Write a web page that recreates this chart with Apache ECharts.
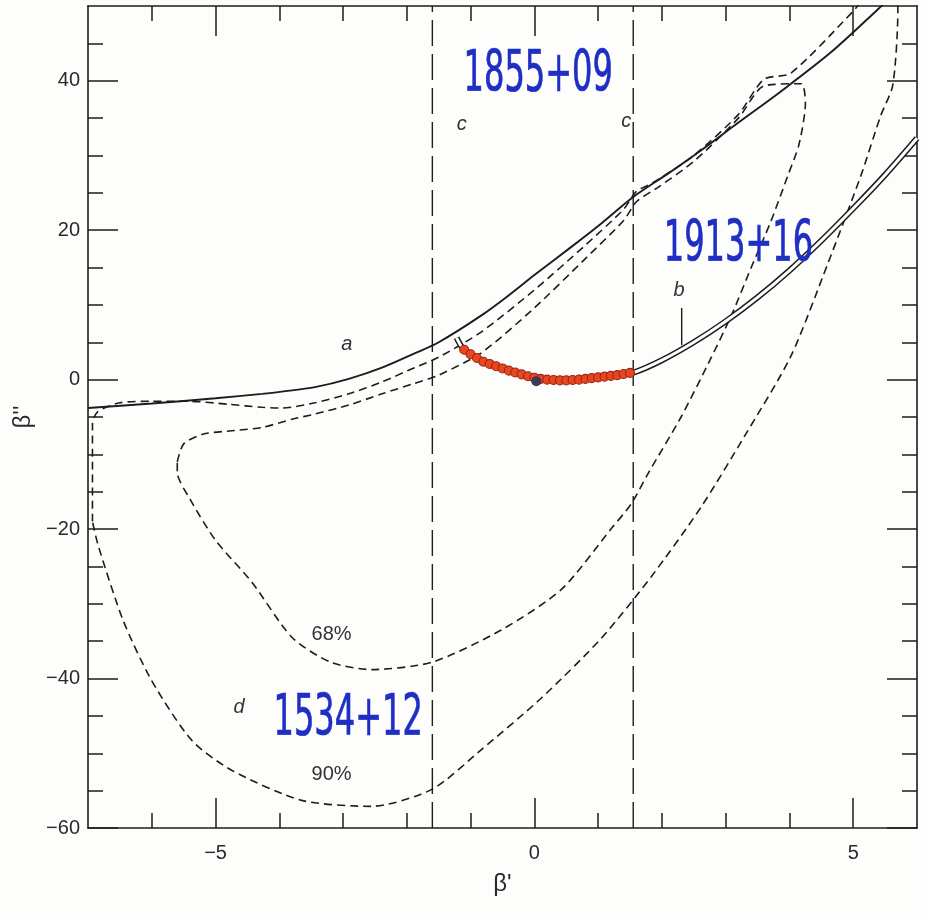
<!DOCTYPE html>
<html><head><meta charset="utf-8">
<script src="https://cdn.jsdelivr.net/npm/echarts@6/dist/echarts.min.js"></script>
<style>html,body{margin:0;padding:0;background:#fdfdfb;}#c{width:927px;height:920px;}</style>
</head><body><div id="c"></div>
<script>
// ---- tick values ----
const xMajorTicks = [-5, 0, 5];
const xMinorTicks = [-6, -4, -3, -2, -1, 1, 2, 3, 4];
const yMajorTicks = [-60, -40, -20, 0, 20, 40];
const yMinorTicks = [-55, -50, -45, -35, -30, -25, -15, -10, -5, 5, 10, 15, 25, 30, 35, 45];

// ---- curve a (1855+09 constraint, solid) ----
const curveA = [[-7.0,-3.8],[-6.0,-3.2],[-5.0,-2.5],[-4.27,-1.9],[-3.96,-1.6],[-3.44,-1.0],[-2.91,0.1],[-2.39,1.6],[-1.88,3.5],[-1.5,5.0],[-0.83,8.6],[-0.4,11.3],[0.0,14.0],[0.6,17.9],[1.05,20.9],[1.56,24.5],[2.1,27.6],[2.6,30.6],[3.2,34.4],[3.87,38.6],[4.65,43.8],[5.38,49.5],[5.6,51.3]];

// ---- 1534+12 confidence contours (dashed) ----
const contour90 = [[-6.93,-19.0],[-6.93,-12.0],[-6.93,-6.0],[-6.85,-4.3],[-6.5,-3.1],[-6.0,-2.9],[-5.4,-2.9],[-4.8,-3.3],[-4.27,-3.7],[-3.96,-3.8],[-3.44,-3.1],[-2.91,-1.9],[-2.39,-0.3],[-1.88,1.6],[-1.5,3.0],[-0.83,6.4],[0.0,12.0],[0.8,18.0],[1.4,22.8],[1.6,25.2],[1.85,26.3],[2.5,30.0],[3.2,35.5],[3.6,40.2],[4.02,41.0],[5.0,49.3],[5.3,52.0],[5.7,52.0],[5.7,49.4],[5.62,39.4],[5.43,35.3],[5.12,27.3],[4.6,15.5],[4.02,3.1],[3.3,-7.5],[2.61,-17.1],[1.83,-26.4],[1.05,-34.6],[0.11,-42.6],[-0.83,-49.5],[-1.6,-54.8],[-2.55,-57.1],[-3.65,-56.3],[-4.74,-52.3],[-5.37,-48.3],[-6.0,-40.3],[-6.45,-32.2],[-6.84,-22.2],[-6.93,-19.0]];
const contour68 = [[-5.6,-11.0],[-5.5,-8.6],[-5.2,-7.3],[-4.7,-6.8],[-4.27,-6.4],[-3.8,-5.3],[-3.44,-4.6],[-2.91,-3.4],[-2.39,-1.9],[-1.88,-0.5],[-1.5,0.6],[-0.83,3.6],[0.0,9.6],[0.8,16.2],[1.4,21.3],[1.6,23.8],[1.95,25.8],[2.5,29.2],[3.2,35.0],[3.6,39.3],[4.18,39.6],[4.25,37.0],[4.15,31.5],[3.97,27.2],[3.7,21.0],[3.4,15.0],[3.1,8.8],[2.77,2.9],[2.3,-5.0],[1.8,-12.3],[1.52,-16.6],[1.2,-20.0],[0.42,-28.1],[-0.52,-33.5],[-1.6,-37.8],[-2.55,-38.8],[-3.2,-37.8],[-3.8,-34.5],[-4.43,-27.1],[-5.0,-21.5],[-5.4,-16.0],[-5.6,-12.4],[-5.6,-11.0]];

// ---- c limits (vertical) ----
const cLinesX = [-1.6, 1.55];

// ---- curve b (1913+16, double line) ----
const curveB = [[-1.22,5.6],[-1.1,4.0],[-0.78,2.4],[-0.52,1.6],[-0.25,0.84],[0.03,0.07],[0.27,-0.05],[0.53,-0.1],[0.78,0.1],[1.05,0.4],[1.31,0.55],[1.56,0.95],[2.0,2.6],[2.5,5.0],[3.0,7.8],[3.5,11.0],[4.0,14.6],[4.5,18.6],[5.0,22.9],[5.5,27.4],[6.0,32.3]];
const bPointer = [[2.31,4.6],[2.31,9.6]];

// ---- red measurement points along b ----
const redX = [-1.10,-1.00,-0.90,-0.80,-0.70,-0.60,-0.50,-0.40,-0.30,-0.20,-0.10,0.00,0.10,0.20,0.30,0.40,0.50,0.60,0.70,0.80,0.90,1.00,1.10,1.20,1.30,1.40,1.50];
const redY = [4.0,3.4,2.9,2.4,2.1,1.8,1.5,1.2,0.95,0.7,0.45,0.25,0.1,0.0,-0.05,-0.1,-0.1,-0.05,0.0,0.1,0.2,0.3,0.4,0.5,0.6,0.75,0.9];
const darkPoint = [[0.03,-0.2]];

// ---- annotations ----
const blueTexts = ['1855+09','1913+16','1534+12'];
const bluePos = [[0.06,40.6],[3.2,17.9],[-2.92,-45.6]];
const noteTexts = ['a','b','c','c','d','68%','90%'];
const notePos = [[-2.94,4.75],[2.27,11.9],[-1.14,34.1],[1.44,34.6],[-4.63,-43.8],[-3.18,-34.1],[-3.18,-52.8]];
const noteItalic = [true,true,true,true,true,false,false];

const INK = '#1c1c1c';
const minusFmt = v => String(v).replace('-', '\u2212');

function xAx(pos, ticks, len, line, labels, name) {
  return {
    type:'value', gridIndex:0, min:-7, max:6, position:pos, offset:0,
    name: name || '', nameLocation:'middle', nameGap:44,
    nameTextStyle:{fontSize:24, color:'#2a2a2a', fontFamily:'Liberation Sans'},
    axisLine:{show:line, onZero:false, lineStyle:{color:INK, width:1.6}},
    axisTick:{show:true, inside:true, length:len, customValues:ticks, lineStyle:{color:INK, width:1.5}},
    axisLabel: labels ? {show:true, customValues:ticks, formatter:minusFmt, fontSize:20, color:'#2a2a2a', margin:15, fontFamily:'Liberation Sans'} : {show:false},
    splitLine:{show:false}, minorTick:{show:false}
  };
}
function yAx(pos, ticks, len, line, labels, name) {
  return {
    type:'value', gridIndex:0, min:-60, max:50, position:pos, offset:0,
    name: name || '', nameLocation:'middle', nameGap:38,
    nameTextStyle:{fontSize:24, color:'#2a2a2a', fontFamily:'Liberation Sans'},
    axisLine:{show:line, onZero:false, lineStyle:{color:INK, width:1.6}},
    axisTick:{show:true, inside:true, length:len, customValues:ticks, lineStyle:{color:INK, width:1.5}},
    axisLabel: labels ? {show:true, customValues:ticks, formatter:minusFmt, fontSize:20, color:'#2a2a2a', margin:8, fontFamily:'Liberation Sans'} : {show:false},
    splitLine:{show:false}, minorTick:{show:false}
  };
}

function lineS(data, style, extra) {
  return Object.assign({type:'line', xAxisIndex:0, yAxisIndex:0, data:data, symbol:'none', showSymbol:false,
    smooth:0.3, clip:true, silent:true, z:2, lineStyle:style}, extra || {});
}

const chart = echarts.init(document.getElementById('c'), null, {renderer:'canvas'});
const dashed = {color:INK, width:1.6, type:[8,5]};
chart.setOption({
  animation:false,
  backgroundColor:'#fdfdfb',
  grid:{left:88, right:10, top:6, bottom:92, containLabel:false},
  xAxis:[
    xAx('bottom', xMajorTicks, 30, true, true, "\u03B2'"),
    xAx('bottom', xMinorTicks, 15, false, false),
    xAx('top', xMajorTicks, 30, true, false),
    xAx('top', xMinorTicks, 15, false, false)
  ],
  yAxis:[
    yAx('left', yMajorTicks, 30, true, true, "\u03B2''"),
    yAx('left', yMinorTicks, 15, false, false),
    yAx('right', yMajorTicks, 30, true, false),
    yAx('right', yMinorTicks, 15, false, false)
  ],
  series:[
    lineS(contour90, dashed, {smooth:0.25}),
    lineS(contour68, dashed, {smooth:0.25}),
    lineS(curveA, {color:INK, width:1.9}),
    lineS([[cLinesX[0],-60],[cLinesX[0],50]], {color:INK, width:1.4, type:[26,8]}, {smooth:false}),
    lineS([[cLinesX[1],-60],[cLinesX[1],50]], {color:INK, width:1.4, type:[26,8]}, {smooth:false}),
    lineS(curveB, {color:INK, width:6, cap:'butt'}, {z:3}),
    lineS(curveB, {color:'#fdfdfb', width:3, cap:'butt'}, {z:4}),
    lineS(bPointer, {color:INK, width:1.4}, {smooth:false}),
    {type:'scatter', xAxisIndex:0, yAxisIndex:0, silent:true, z:8,
      data: redX.map((x,i)=>[x, redY[i]]), symbol:'circle', symbolSize:9,
      itemStyle:{color:'#e8461f', borderColor:'#9a2612', borderWidth:1.1, opacity:1}},
    {type:'scatter', xAxisIndex:0, yAxisIndex:0, silent:true, z:9, data:darkPoint, symbol:'circle', symbolSize:10,
      itemStyle:{color:'#3b3b58', opacity:1}},
    {type:'custom', coordinateSystem:'cartesian2d', xAxisIndex:0, yAxisIndex:0, silent:true, z:10,
      data: notePos,
      renderItem:(params, api)=>{
        const p = api.coord([api.value(0), api.value(1)]);
        return {type:'text', x:p[0], y:p[1], style:{text:noteTexts[params.dataIndex], fontSize:20,
          fontFamily:'Liberation Sans', fontStyle: noteItalic[params.dataIndex] ? 'italic' : 'normal',
          fill:'#333', align:'center', verticalAlign:'middle'}};
      }},
    {type:'custom', coordinateSystem:'cartesian2d', xAxisIndex:0, yAxisIndex:0, silent:true, z:11,
      data: bluePos,
      renderItem:(params, api)=>{
        const p = api.coord([api.value(0), api.value(1)]);
        return {type:'text', x:p[0], y:p[1], scaleX:0.66, scaleY:1.05,
          style:{text:blueTexts[params.dataIndex], fontSize:54, fontFamily:'DejaVu Sans Condensed',
          fill:'#1f2fc4', stroke:'#1f2fc4', lineWidth:0.7, align:'center', verticalAlign:'middle'}};
      }}
  ]
});
</script></body></html>
